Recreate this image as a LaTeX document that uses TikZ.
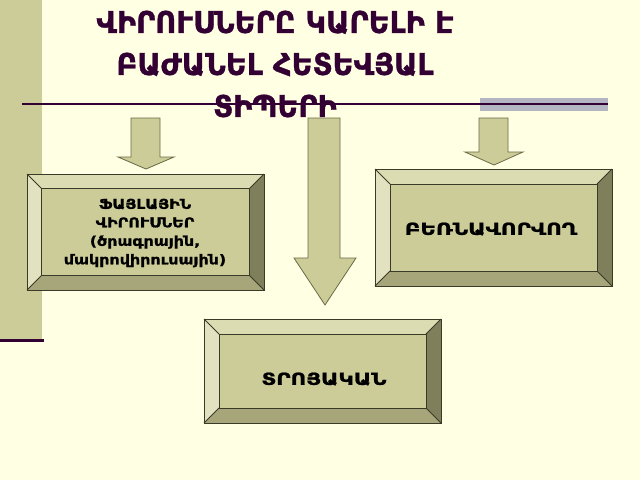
\documentclass[tikz,border=0pt]{standalone}
\usepackage{fontspec}
\setmainfont{DejaVu Sans}
\newfontfamily\titlefont[FakeStretch=0.96,FakeBold=1]{DejaVu Sans}
\newfontfamily\widefont[FakeStretch=1.3,FakeBold=1.2]{DejaVu Sans}
\newfontfamily\midfont[FakeStretch=1.18,FakeBold=1]{DejaVu Sans}
\definecolor{bgc}{HTML}{FFFFE3}
\definecolor{barc}{HTML}{CCCC99}
\definecolor{plum}{HTML}{330033}
\definecolor{greyb}{HTML}{B4B4C2}
\definecolor{face}{HTML}{CCCC99}
\definecolor{bevtop}{HTML}{DCDCB2}
\definecolor{bevleft}{HTML}{E2E2C0}
\definecolor{bevright}{HTML}{7F7F5C}
\definecolor{bevbot}{HTML}{A6A67A}
\definecolor{edge}{HTML}{3A3A28}
\definecolor{arrowfill}{HTML}{CCCC99}
\definecolor{arrowedge}{HTML}{6B6B45}
\newcommand\bevelbox[5]{%
  \fill[bevtop] (#1,#2) -- (#3,#2) -- (#3-#5,#2+#5) -- (#1+#5,#2+#5) -- cycle;
  \fill[bevleft] (#1,#2) -- (#1+#5,#2+#5) -- (#1+#5,#4-#5) -- (#1,#4) -- cycle;
  \fill[bevright] (#3,#2) -- (#3,#4) -- (#3-#5,#4-#5) -- (#3-#5,#2+#5) -- cycle;
  \fill[bevbot] (#1,#4) -- (#3,#4) -- (#3-#5,#4-#5) -- (#1+#5,#4-#5) -- cycle;
  \fill[face] (#1+#5,#2+#5) rectangle (#3-#5,#4-#5);
  \draw[edge, line width=0.9pt] (#1,#2) rectangle (#3,#4);
  \draw[edge, line width=0.9pt] (#1+#5,#2+#5) rectangle (#3-#5,#4-#5);
  \draw[edge, line width=0.9pt] (#1,#2) -- (#1+#5,#2+#5) (#3,#2) -- (#3-#5,#2+#5)
     (#3,#4) -- (#3-#5,#4-#5) (#1,#4) -- (#1+#5,#4-#5);
}
\tikzset{
  titletext/.style={text=plum, font=\titlefont\fontsize{30}{42}\selectfont\bfseries, align=center, inner sep=0pt},
  boxtext/.style={text=black, align=center, inner sep=0pt},
  blockarrow/.style={fill=arrowfill, draw=arrowedge, line width=0.8pt, line join=miter},
}
\begin{document}
\begin{tikzpicture}[x=1pt,y=-1pt]
\fill[bgc] (0,0) rectangle (640,480);
\useasboundingbox (0,0) rectangle (640,480);
% left bar
\fill[barc] (0,0) rectangle (42,341);
\draw[plum, line width=3pt] (0,340.5) -- (44,340.5);
% grey band and rule
\fill[greyb] (480,98) rectangle (608,111);
\draw[plum, line width=1.6pt] (22,104) -- (608,104);
% title
\node[titletext] (title) at (275,64) {ՎԻՐՈՒՍՆԵՐԸ ԿԱՐԵԼԻ Է\\ԲԱԺԱՆԵԼ ՀԵՏԵՎՅԱԼ\\ՏԻՊԵՐԻ};
% arrows
\draw[blockarrow] (131,118) -- (160,118) -- (160,157) -- (174,157) -- (146,169) -- (118,157) -- (131,157) -- cycle;
\draw[blockarrow] (308,118) -- (340,118) -- (340,258) -- (356,258) -- (325,305) -- (294,258) -- (308,258) -- cycle;
\draw[blockarrow] (479,118) -- (508,118) -- (508,152) -- (523,152) -- (494,165) -- (465,152) -- (479,152) -- cycle;
% boxes
\bevelbox{27}{174}{264}{290}{14.5}
\bevelbox{375}{169}{612}{286}{15}
\bevelbox{204}{319}{441}{423}{15}
\node[boxtext, font=\midfont\fontsize{13.5}{18.5}\selectfont\bfseries] (file) at (145,233)
  {ՖԱՅԼԱՅԻՆ\\ՎԻՐՈՒՍՆԵՐ\\(ծրագրային,\\մակրովիրուսային)};
\node[boxtext, font=\widefont\fontsize{16.5}{20}\selectfont\bfseries] (boot) at (491,229) {ԲԵՌՆԱՎՈՐՎՈՂ};
\node[boxtext, font=\widefont\fontsize{16.5}{20}\selectfont\bfseries] (trojan) at (324,379) {ՏՐՈՅԱԿԱՆ};
\end{tikzpicture}
\end{document}
